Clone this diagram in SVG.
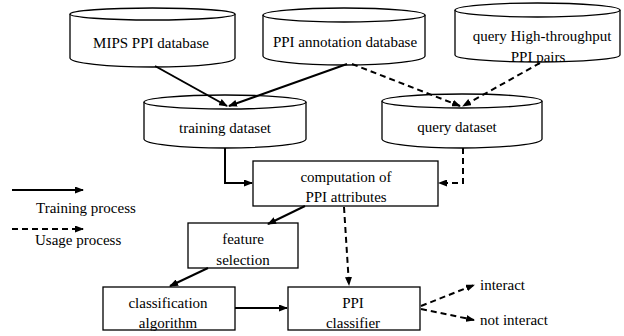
<svg xmlns="http://www.w3.org/2000/svg" width="624" height="336" viewBox="0 0 624 336">
<defs>
<style>
.shape{fill:#fff;stroke:#000;stroke-width:1.3}
.t{font-family:"Liberation Serif","Times New Roman",serif;font-size:15px;fill:#000;text-anchor:middle}
.ts{font-family:"Liberation Serif","Times New Roman",serif;font-size:15px;fill:#000}
.solid{fill:none;stroke:#000;stroke-width:2;marker-end:url(#arr)}
.dash{fill:none;stroke:#000;stroke-width:2;stroke-dasharray:6 4;marker-end:url(#arr)}
</style>
<marker id="arr" markerUnits="userSpaceOnUse" markerWidth="9" markerHeight="7" refX="8" refY="3.5" orient="auto">
<path d="M0,0 L9,3.5 L0,7 Z" fill="#000"/>
</marker>
</defs>
<rect width="624" height="336" fill="#fff"/>
<g id="mips">
<path class="shape" d="M70,14 L70,58 A82.5,9 0 0 0 235,58 L235,14"/>
<ellipse class="shape" cx="152.5" cy="14" rx="82.5" ry="6"/>
<text class="t" x="151" y="48">MIPS PPI database</text>
</g>
<g id="annotation">
<path class="shape" d="M263,15 L263,56 A81,9 0 0 0 425,56 L425,15"/>
<ellipse class="shape" cx="344" cy="15" rx="81" ry="7"/>
<text class="t" x="345" y="47">PPI annotation database</text>
</g>
<g id="highthroughput">
<path class="shape" d="M455,10 L455,55 A82.5,7 0 0 0 620,55 L620,10"/>
<ellipse class="shape" cx="537.5" cy="10" rx="82.5" ry="7"/>
<text class="t" x="542" y="41">query High-throughput</text>
<text class="t" x="538" y="62">PPI pairs</text>
</g>
<g id="training">
<path class="shape" d="M144,102 L144,139 A81,9 0 0 0 306,139 L306,102"/>
<ellipse class="shape" cx="225" cy="102" rx="81" ry="7"/>
<text class="t" x="225" y="133">training dataset</text>
</g>
<g id="query">
<path class="shape" d="M382,101 L382,139 A80,9 0 0 0 542,139 L542,101"/>
<ellipse class="shape" cx="462" cy="101" rx="80" ry="7"/>
<text class="t" x="457" y="132">query dataset</text>
</g>
<g id="computation">
<rect class="shape" x="253" y="161" width="185" height="45"/>
<text class="t" x="346" y="182">computation of</text>
<text class="t" x="346" y="202">PPI attributes</text>
</g>
<g id="feature">
<rect class="shape" x="188" y="223" width="110" height="45"/>
<text class="t" x="243" y="244">feature</text>
<text class="t" x="243" y="265">selection</text>
</g>
<g id="classification">
<rect class="shape" x="103" y="287" width="132" height="43"/>
<text class="t" x="168" y="308">classification</text>
<text class="t" x="168" y="328">algorithm</text>
</g>
<g id="classifier">
<rect class="shape" x="288" y="287" width="132" height="43"/>
<text class="t" x="353" y="308">PPI</text>
<text class="t" x="353" y="328">classifier</text>
</g>
<g id="outputs">
<text class="ts" x="480" y="290">interact</text>
<text class="ts" x="480" y="325">not interact</text>
</g>
<g id="legend">
<path class="solid" d="M12,190 H83"/>
<text class="ts" x="36" y="213">Training process</text>
<path class="dash" d="M12,229 H83"/>
<text class="ts" x="35" y="245">Usage process</text>
</g>
<g id="connectors">
<path class="solid" d="M155,66 L227,106"/>
<path class="solid" d="M347,64 L229,106"/>
<path class="dash" d="M352,64 L460,106"/>
<path class="dash" d="M540,63 L463,106"/>
<path class="solid" d="M225,148 V183 H252"/>
<path class="dash" d="M463,148 V183 H439"/>
<path class="solid" d="M305,206 L268,224"/>
<path class="solid" d="M208,268 L170,286"/>
<path class="solid" d="M235,308 H287"/>
<path class="dash" d="M344,207 L349,285"/>
<path class="dash" d="M421,306 L474,285"/>
<path class="dash" d="M421,309 L474,320"/>
</g>
</svg>
